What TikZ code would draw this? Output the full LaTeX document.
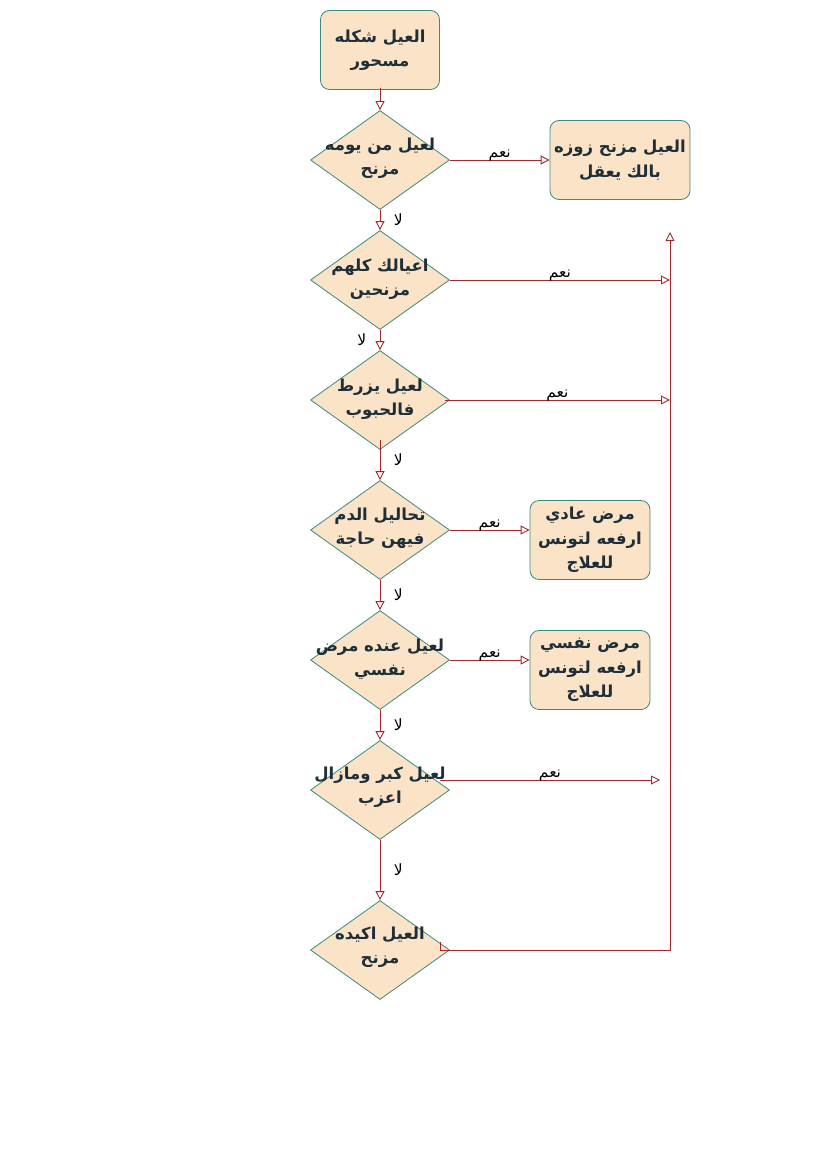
\documentclass[tikz,border=0pt]{standalone}
\usepackage{fontspec}
\usepackage{xcolor}
\usepackage{tikz}
\usetikzlibrary{positioning}
\usetikzlibrary{calc}
\usetikzlibrary{shapes}
\usetikzlibrary{arrows.meta}

\newfontfamily\arabicfont[Script=Arabic]{DejaVu Sans}
\TeXXeTstate=1

\definecolor{boxfill}{HTML}{FAE3C7}
\definecolor{boxline}{HTML}{3A8C7A}
\definecolor{flowline}{HTML}{A3282B}
\definecolor{boxtext}{HTML}{1E2F3A}

\tikzset{
  boxtxt/.style={text=boxtext,align=center,font=\arabicfont\bfseries\fontsize{16.5}{24.5}\selectfont},
  resbox/.style={boxtxt,draw=boxline,fill=boxfill,line width=0.8pt,rounded corners=9pt,minimum height=79pt,inner sep=1pt},
  decision/.style={diamond,draw=boxline,fill=boxfill,line width=0.8pt,minimum width=139pt,minimum height=99pt,inner sep=0pt},
  flow/.style={draw=flowline,line width=0.9pt,->,>={Triangle[open,length=9pt,width=9pt]}},
  yeslbl/.style={text=black,font=\arabicfont\fontsize{15.5}{17}\selectfont,above=-5pt},
  nolbl/.style={text=black,font=\arabicfont\fontsize{15.5}{17}\selectfont},
}

\begin{document}
\begin{tikzpicture}[x=1pt,y=-1pt]

\useasboundingbox (0,0) rectangle (827,1169);

%BOXES
\node[resbox,minimum width=119pt](start)at(380,50){\beginR العيل شكله\endR\\\beginR مسحور\endR};
\node[resbox,minimum width=140pt](res1)at(620,160){\beginR العيل مزنح زوزه\endR\\\beginR بالك يعقل\endR};
\node[resbox,minimum width=120pt](res2)at(590,540){\beginR مرض عادي\endR\\\beginR ارفعه لتونس\endR\\\beginR للعلاج\endR};
\node[resbox,minimum width=120pt](res3)at(590,670){\beginR مرض نفسي\endR\\\beginR ارفعه لتونس\endR\\\beginR للعلاج\endR};

%DECISIONS
\node[decision,label={[boxtxt,yshift=2pt]center:{\beginR لعيل من يومه\endR\\\beginR مزنح\endR}}](q1)at(380,160){};
\node[decision,label={[boxtxt,yshift=1pt]center:{\beginR اعيالك كلهم\endR\\\beginR مزنحين\endR}}](q2)at(380,280){};
\node[decision,label={[boxtxt,yshift=1pt]center:{\beginR لعيل يزرط\endR\\\beginR فالحبوب\endR}}](q3)at(380,400){};
\node[decision,label={[boxtxt,yshift=2pt]center:{\beginR تحاليل الدم\endR\\\beginR فيهن حاجة\endR}}](q4)at(380,530){};
\node[decision,label={[boxtxt,yshift=1pt]center:{\beginR لعيل عنده مرض\endR\\\beginR نفسي\endR}}](q5)at(380,660){};
\node[decision,label={[boxtxt,yshift=3pt]center:{\beginR لعيل كبر ومازال\endR\\\beginR اعزب\endR}}](q6)at(380,790){};
\node[decision,label={[boxtxt,yshift=3pt]center:{\beginR العيل اكيده\endR\\\beginR مزنح\endR}}](q7)at(380,950){};

%RAIL
\coordinate(rail2)at(670,280);
\coordinate(rail3)at(670,400);
\coordinate(railtop)at(670,232);
\coordinate(railbot)at(670,950);
\coordinate(yes6end)at(660,780);

%NO
\draw[flow] ($(start.south)+(0,-2)$) -- (q1.north);
\draw[flow] (q1.south) -- node[nolbl,right=10pt]{\beginR لا\endR} (q2.north);
\draw[flow] (q2.south) -- node[nolbl,left=10pt]{\beginR لا\endR} (q3.north);
\draw[flow] ($(q3.south)+(0,-10)$) -- node[nolbl,right=10pt]{\beginR لا\endR} (q4.north);
\draw[flow] (q4.south) -- node[nolbl,right=10pt]{\beginR لا\endR} (q5.north);
\draw[flow] (q5.south) -- node[nolbl,right=10pt]{\beginR لا\endR} (q6.north);
\draw[flow] (q6.south) -- node[nolbl,right=10pt]{\beginR لا\endR} (q7.north);

%YES
\draw[flow] (q1.east) -- node[yeslbl]{\beginR نعم\endR} (res1.west);
\draw[flow] (q2.east) -- node[yeslbl]{\beginR نعم\endR} (rail2);
\draw[flow] ($(q3.east)+(-5,0)$) -- node[yeslbl]{\beginR نعم\endR} (rail3);
\draw[flow] (q4.east) -- node[yeslbl]{\beginR نعم\endR} (res2.west|-q4.east);
\draw[flow] (q5.east) -- node[yeslbl]{\beginR نعم\endR} (res3.west|-q5.east);
\draw[flow] ($(q6.center)+(60,-10)$) -- node[yeslbl]{\beginR نعم\endR} (yes6end);
\draw[flow] ($(q7.center)+(60,-8)$) |- (railbot) -- (railtop);

\end{tikzpicture}
\end{document}
